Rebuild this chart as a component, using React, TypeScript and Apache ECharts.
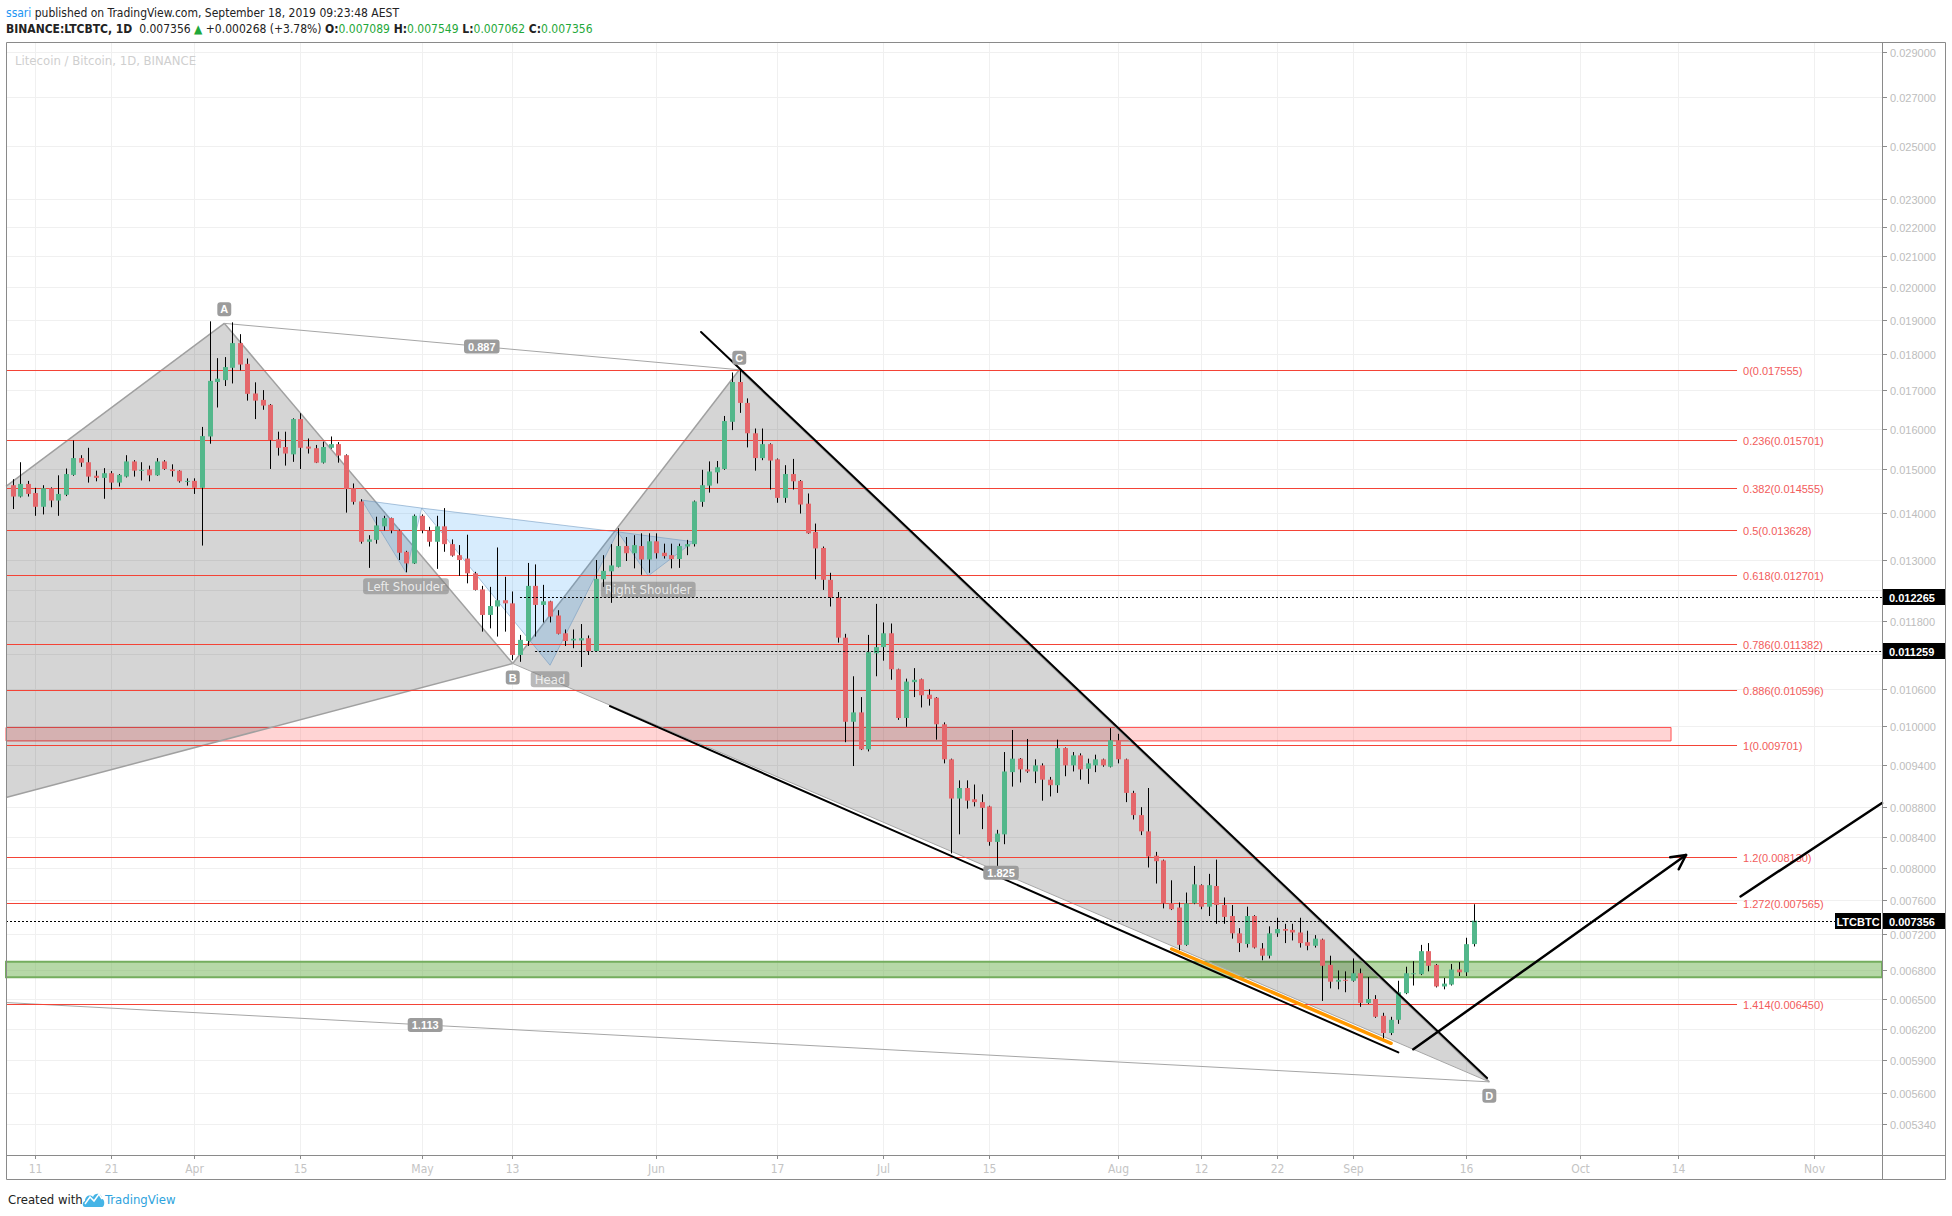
import React, { useEffect, useRef } from 'react';
import * as echarts from 'echarts';

// ---------------- data ----------------
const firstDay = '2019-03-08';
const dayMs = 86400000;
const dayIndex = (d: string) =>
  Math.round((Date.parse(d + 'T00:00:00Z') - Date.parse(firstDay + 'T00:00:00Z')) / dayMs);

// daily candles [open, high, low, close]
const marOHLC = [
  [0.01463, 0.01477, 0.01409, 0.01437], [0.01437, 0.01517, 0.01435, 0.01466], [0.01466, 0.01473, 0.01437, 0.01443],
  [0.01445, 0.01457, 0.01394, 0.01414], [0.01414, 0.01463, 0.01397, 0.01456], [0.01456, 0.01458, 0.01413, 0.01428],
  [0.01428, 0.01486, 0.01394, 0.01443], [0.01441, 0.01502, 0.01438, 0.01489], [0.01487, 0.0157, 0.01485, 0.01527],
  [0.01527, 0.01534, 0.01506, 0.01516], [0.01517, 0.01552, 0.01469, 0.01483], [0.01485, 0.01497, 0.01472, 0.0148],
  [0.0148, 0.01503, 0.01432, 0.01491], [0.01491, 0.01496, 0.01453, 0.01469], [0.01469, 0.01489, 0.0146, 0.01487],
  [0.01483, 0.01534, 0.01481, 0.01519], [0.01519, 0.01522, 0.01483, 0.01497], [0.01497, 0.01517, 0.01474, 0.01499],
  [0.015, 0.01509, 0.01472, 0.01486], [0.01486, 0.01527, 0.01485, 0.01519], [0.01519, 0.01522, 0.01499, 0.01501],
  [0.015, 0.01512, 0.01483, 0.01496], [0.01497, 0.01498, 0.01469, 0.01472], [0.01472, 0.01479, 0.01462, 0.01473],
];
const aprOHLC = [
  [0.01473, 0.01479, 0.01443, 0.01457], [0.01457, 0.01604, 0.0133, 0.01581], [0.0158, 0.01895, 0.01562, 0.01725],
  [0.01722, 0.01788, 0.01654, 0.01731], [0.01727, 0.01791, 0.01711, 0.01763], [0.01761, 0.01892, 0.01718, 0.01831],
  [0.01831, 0.01857, 0.01754, 0.0177], [0.01772, 0.01787, 0.01672, 0.0169], [0.01691, 0.01721, 0.01624, 0.01672],
  [0.01674, 0.017, 0.01648, 0.01659], [0.01661, 0.01663, 0.01501, 0.01571], [0.01573, 0.01592, 0.01533, 0.01552],
  [0.01554, 0.01592, 0.01509, 0.01538], [0.01536, 0.01626, 0.01518, 0.01624], [0.01624, 0.01639, 0.01501, 0.01552],
  [0.01555, 0.01575, 0.01538, 0.0155], [0.01551, 0.01559, 0.01515, 0.01516], [0.01516, 0.01567, 0.01514, 0.01554],
  [0.01552, 0.0158, 0.0155, 0.01561], [0.01561, 0.01566, 0.01516, 0.01533], [0.01534, 0.01536, 0.01401, 0.01454],
  [0.01456, 0.01467, 0.01419, 0.01425], [0.01426, 0.01431, 0.01334, 0.01338], [0.01338, 0.01352, 0.01284, 0.01343],
  [0.01342, 0.01392, 0.01334, 0.01373], [0.01371, 0.01394, 0.01362, 0.01389], [0.01389, 0.0139, 0.01356, 0.01362],
  [0.01362, 0.01364, 0.013, 0.01315], [0.01317, 0.01319, 0.01275, 0.01293], [0.01293, 0.01397, 0.01292, 0.01394],
];
const mayOHLC = [
  [0.01394, 0.01397, 0.01356, 0.01362], [0.01362, 0.0137, 0.01328, 0.01338], [0.01338, 0.01394, 0.01282, 0.01371],
  [0.01371, 0.01411, 0.01317, 0.01333], [0.01333, 0.01343, 0.01307, 0.01309], [0.0131, 0.01331, 0.01268, 0.013],
  [0.01303, 0.01353, 0.01253, 0.01273], [0.01273, 0.01276, 0.01239, 0.0124], [0.01241, 0.01248, 0.01161, 0.01192],
  [0.01192, 0.01246, 0.01167, 0.01209], [0.01208, 0.01326, 0.01152, 0.0122], [0.0122, 0.01266, 0.01161, 0.01214],
  [0.01214, 0.01237, 0.0111, 0.01119], [0.01119, 0.01155, 0.01107, 0.01146], [0.01144, 0.01294, 0.01135, 0.01248],
  [0.01248, 0.01291, 0.01152, 0.01211], [0.01211, 0.0125, 0.01178, 0.01218], [0.01218, 0.01219, 0.01178, 0.01189],
  [0.01191, 0.01201, 0.01156, 0.01157], [0.01158, 0.01165, 0.01135, 0.01144], [0.01145, 0.01165, 0.01131, 0.01148],
  [0.01145, 0.01175, 0.01098, 0.01149], [0.01149, 0.01154, 0.01119, 0.01126], [0.01126, 0.013, 0.01125, 0.01262],
  [0.01261, 0.0131, 0.01246, 0.01278], [0.01277, 0.01333, 0.01215, 0.01289], [0.01286, 0.01367, 0.01285, 0.01329],
  [0.01329, 0.01348, 0.01298, 0.01314], [0.01314, 0.01352, 0.01283, 0.01331], [0.01329, 0.01356, 0.0127, 0.01301],
  [0.01301, 0.01356, 0.01274, 0.01339],
];
const junOHLC = [
  [0.01339, 0.01356, 0.01303, 0.01314], [0.01315, 0.01334, 0.01303, 0.01308], [0.0131, 0.01334, 0.01283, 0.01302],
  [0.01302, 0.01334, 0.01284, 0.01329], [0.01328, 0.01342, 0.0131, 0.01333], [0.01333, 0.01428, 0.01328, 0.01426],
  [0.01425, 0.01499, 0.01414, 0.01463], [0.01462, 0.01519, 0.01446, 0.01495], [0.01493, 0.0152, 0.01467, 0.01505],
  [0.01501, 0.01632, 0.01499, 0.01619], [0.01617, 0.01748, 0.01596, 0.01722], [0.01722, 0.017555, 0.0164, 0.01666],
  [0.01666, 0.01678, 0.01553, 0.01588], [0.01588, 0.016, 0.01497, 0.01527], [0.01527, 0.016, 0.01522, 0.01561],
  [0.01561, 0.01563, 0.01453, 0.01521], [0.01524, 0.01526, 0.01423, 0.01434], [0.01434, 0.0151, 0.01423, 0.01489],
  [0.01489, 0.01525, 0.01453, 0.01472], [0.01473, 0.01475, 0.01399, 0.01419], [0.01421, 0.01444, 0.01355, 0.01356],
  [0.01359, 0.01377, 0.01261, 0.01324], [0.01325, 0.01328, 0.0124, 0.0126], [0.0126, 0.01274, 0.01208, 0.01225],
  [0.01225, 0.01236, 0.01141, 0.0115], [0.0115, 0.01157, 0.00975, 0.01007], [0.01007, 0.01082, 0.00939, 0.01022],
  [0.01022, 0.01047, 0.00963, 0.00964], [0.00964, 0.01155, 0.00961, 0.01124], [0.01122, 0.01213, 0.01082, 0.01133],
];
const julOHLC = [
  [0.01133, 0.01178, 0.01109, 0.01158], [0.01158, 0.01176, 0.01076, 0.01094], [0.01094, 0.01095, 0.0101, 0.01013],
  [0.01013, 0.01078, 0.00999, 0.01073], [0.01072, 0.01096, 0.01047, 0.01076], [0.01077, 0.01078, 0.0103, 0.0105],
  [0.01051, 0.0106, 0.01033, 0.01044], [0.01046, 0.01047, 0.00979, 0.01003], [0.01003, 0.01006, 0.00943, 0.00949],
  [0.00949, 0.0095, 0.00818, 0.00892], [0.00892, 0.00918, 0.00843, 0.00907], [0.00907, 0.00918, 0.00878, 0.00889],
  [0.00891, 0.00912, 0.00881, 0.00887], [0.00887, 0.00898, 0.0085, 0.00879], [0.00881, 0.00882, 0.00828, 0.00833],
  [0.00833, 0.00849, 0.00797, 0.00844], [0.00843, 0.0096, 0.0083, 0.00931], [0.0093, 0.00994, 0.00909, 0.0095],
  [0.0095, 0.00951, 0.00915, 0.00934], [0.00934, 0.0098, 0.00929, 0.00931], [0.00931, 0.00949, 0.00914, 0.0094],
  [0.0094, 0.00943, 0.00889, 0.00919], [0.00919, 0.00923, 0.00895, 0.00911], [0.00911, 0.00979, 0.009, 0.00966],
  [0.00966, 0.00967, 0.00924, 0.0094], [0.0094, 0.0096, 0.00931, 0.00955], [0.00955, 0.00958, 0.00919, 0.00934],
  [0.00935, 0.0095, 0.00913, 0.00943], [0.0094, 0.00956, 0.0093, 0.00949], [0.00949, 0.0095, 0.00938, 0.0094],
  [0.00938, 0.00997, 0.00937, 0.00978],
];
const augOHLC = [
  [0.00978, 0.00988, 0.00943, 0.00949], [0.00949, 0.0095, 0.00887, 0.009], [0.009, 0.00903, 0.00863, 0.00869],
  [0.00869, 0.0088, 0.00842, 0.00847], [0.00847, 0.00907, 0.008, 0.00814], [0.00815, 0.0082, 0.0078, 0.00808],
  [0.00809, 0.0081, 0.0075, 0.00756], [0.00756, 0.00784, 0.00748, 0.00749], [0.00751, 0.00757, 0.00702, 0.00708],
  [0.00708, 0.00769, 0.00707, 0.00756], [0.00756, 0.00802, 0.00755, 0.00779], [0.00778, 0.00779, 0.00749, 0.00752],
  [0.00752, 0.00792, 0.00741, 0.00778], [0.00777, 0.0081, 0.00732, 0.00754], [0.00754, 0.00763, 0.00732, 0.0074],
  [0.00741, 0.00754, 0.00715, 0.00721], [0.00721, 0.00727, 0.007, 0.0071], [0.00709, 0.00752, 0.00705, 0.00741],
  [0.00741, 0.00742, 0.00704, 0.00705], [0.00704, 0.0071, 0.00691, 0.00696], [0.00696, 0.00729, 0.00693, 0.00721],
  [0.00721, 0.00739, 0.00717, 0.00726], [0.00726, 0.00732, 0.0071, 0.00724], [0.00725, 0.00732, 0.00713, 0.00722],
  [0.00722, 0.00739, 0.00705, 0.0071], [0.00711, 0.00724, 0.00702, 0.00707], [0.00707, 0.00719, 0.00705, 0.00715],
  [0.00714, 0.00715, 0.00648, 0.00685], [0.00686, 0.00696, 0.00661, 0.00668], [0.00668, 0.0068, 0.0066, 0.0067],
  [0.0067, 0.00679, 0.00657, 0.00669],
];
const sepOHLC = [
  [0.00669, 0.00693, 0.00668, 0.00677], [0.00677, 0.00682, 0.00642, 0.00646], [0.00646, 0.00673, 0.00645, 0.0065],
  [0.0065, 0.00654, 0.00631, 0.00632], [0.00633, 0.00636, 0.00609, 0.00616], [0.00616, 0.00632, 0.00614, 0.00629],
  [0.00629, 0.00669, 0.00625, 0.00657], [0.00656, 0.00684, 0.00655, 0.00677], [0.00676, 0.0069, 0.00664, 0.00677],
  [0.00676, 0.00708, 0.00675, 0.00701], [0.00701, 0.0071, 0.00679, 0.00685], [0.00686, 0.00687, 0.00662, 0.00663],
  [0.00663, 0.00672, 0.0066, 0.00666], [0.00665, 0.00687, 0.00664, 0.00681], [0.00681, 0.00689, 0.00674, 0.00678],
  [0.00678, 0.00716, 0.00674, 0.007088], [0.007089, 0.007549, 0.007062, 0.007356],
];

// axes
const xTickDates = ['2019-03-11', '2019-03-21', '2019-04-01', '2019-04-15', '2019-05-01', '2019-05-13', '2019-06-01',
  '2019-06-17', '2019-07-01', '2019-07-15', '2019-08-01', '2019-08-12', '2019-08-22', '2019-09-01', '2019-09-16',
  '2019-10-01', '2019-10-14', '2019-11-01'];
const xTickText = ['11', '21', 'Apr', '15', 'May', '13', 'Jun', '17', 'Jul', '15', 'Aug', '12', '22', 'Sep', '16', 'Oct', '14', 'Nov'];
const yTicks = [0.029, 0.027, 0.025, 0.023, 0.022, 0.021, 0.02, 0.019, 0.018, 0.017, 0.016, 0.015, 0.014, 0.013,
  0.0124, 0.0118, 0.0112, 0.0106, 0.01, 0.0094, 0.0088, 0.0084, 0.008, 0.0076, 0.0072, 0.0068, 0.0065, 0.0062,
  0.0059, 0.0056, 0.00534];
const xMin = -0.896;
const xMax = 246.92;
const yMin = 0.005081;
const yMax = 0.029455;

// fibonacci retracement
const fibRatios = ['0', '0.236', '0.382', '0.5', '0.618', '0.786', '0.886', '1', '1.2', '1.272', '1.414'];
const fibPrices = [0.017555, 0.015701, 0.014555, 0.013628, 0.012701, 0.011382, 0.010596, 0.009701, 0.00813, 0.007565, 0.00645];
const fibEndIdx = 227.77;

// XABCD pattern (day index, price)
const xabcdNames = ['X', 'A', 'B', 'C', 'D'];
const xabcdIdx = [-86.1, 27.94, 66.04, 95.97, 195.05];
const xabcdPrice = [0.006826, 0.01889, 0.01104, 0.017555, 0.005703];
const xabcdRatios = ['0.887', '1.825', '1.113']; // A-C, B-D, X-D

// inverse head & shoulders
const hsIdx = [46.1, 51.94, 54.02, 70.97, 79.91, 83.95, 89.9];
const hsPrice = [0.01429, 0.01275, 0.01411, 0.01101, 0.01359, 0.01268, 0.01338];
const hsNames = ['Left Shoulder', 'Head', 'Right Shoulder'];

// trend lines [idx0, price0, idx1, price1]
const upperTrend = [90.92, 0.018634, 194.75, 0.005737];
const lowerTrend = [78.89, 0.010323, 183.03, 0.005975];
const orangeTrend = [153.09, 0.007034, 182.07, 0.006061];
const arrowMain = [185.01, 0.006004, 221.03, 0.008159];
const arrowRay = [228.23, 0.007643, 250, 0.009075];

// zones [idx0, idx1, priceTop, priceBottom]
const redZone = [-2, 219.05, 0.00998, 0.00977];
const greenZone = [-2, 250, 0.006893, 0.006726];

// horizontal price rays
const rayPrices = [0.012265, 0.011259, 0.007356];
const rayStartIdx = [67.0, 69.0, -2];
const symbolName = 'LTCBTC';

// ---------------- helpers ----------------
const UP = '#53b78b';
const DOWN = '#e4676b';
const NARROW = '"Liberation Sans Narrow","DejaVu Sans Condensed","Roboto Condensed","Liberation Sans",Arial,sans-serif';
const SANS = '"Liberation Sans",Arial,sans-serif';

function clipPoly(pts: number[][], r: any) {
  const bounds: [number, number, boolean][] = [
    [0, r.x, true], [0, r.x + r.width, false], [1, r.y, true], [1, r.y + r.height, false],
  ];
  let out = pts;
  for (const [k, v, gt] of bounds) {
    const inp = out;
    out = [];
    if (!inp.length) break;
    for (let i = 0; i < inp.length; i++) {
      const a = inp[i];
      const b = inp[(i + 1) % inp.length];
      const ina = gt ? a[k] >= v : a[k] <= v;
      const inb = gt ? b[k] >= v : b[k] <= v;
      if (ina) out.push(a);
      if (ina !== inb) {
        const t = (v - a[k]) / (b[k] - a[k]);
        out.push([a[0] + t * (b[0] - a[0]), a[1] + t * (b[1] - a[1])]);
      }
    }
  }
  return out;
}

function clipSeg(a: number[], b: number[], r: any) {
  let t0 = 0, t1 = 1;
  const dx = b[0] - a[0], dy = b[1] - a[1];
  const p = [-dx, dx, -dy, dy];
  const q = [a[0] - r.x, r.x + r.width - a[0], a[1] - r.y, r.y + r.height - a[1]];
  for (let i = 0; i < 4; i++) {
    if (p[i] === 0) {
      if (q[i] < 0) return null;
    } else {
      const t = q[i] / p[i];
      if (p[i] < 0) { if (t > t1) return null; if (t > t0) t0 = t; }
      else { if (t < t0) return null; if (t < t1) t1 = t; }
    }
  }
  return [[a[0] + t0 * dx, a[1] + t0 * dy], [a[0] + t1 * dx, a[1] + t1 * dy]];
}

const seg = (s: number[][] | null, stroke: string, lineWidth: number, extra: any = {}) =>
  s ? { type: 'line', shape: { x1: s[0][0], y1: s[0][1], x2: s[1][0], y2: s[1][1] }, style: { stroke, lineWidth, ...extra } } : null;

const tag = (x: number, y: number, text: string, o: any = {}) => ({
  type: 'text', x, y,
  style: {
    text, align: 'center', verticalAlign: 'middle', fontSize: 11, fontWeight: 'bold', fontFamily: SANS,
    fill: '#ffffff', backgroundColor: '#9c9c9c', padding: [2, 4, 1, 4], borderRadius: 3, ...o,
  },
});

const rectOf = (cs: any) => ({ x: cs.x, y: cs.y, width: cs.width, height: cs.height });

function buildOption() {
  const rows = [...marOHLC, ...aprOHLC, ...mayOHLC, ...junOHLC, ...julOHLC, ...augOHLC, ...sepOHLC];
  const candleData = rows.map((r, i) => [i, r[0], r[1], r[2], r[3]]);
  const xTickIdx = xTickDates.map(dayIndex);
  const one = [[0, 0.01]];

  const base = {
    type: 'custom', coordinateSystem: 'cartesian2d', silent: true, xAxisIndex: 0, yAxisIndex: 0,
  };

  const yAxisSeries = {
    ...base, z: 1,
    data: yTicks.map((v) => [0, v]),
    encode: { x: 0, y: 1 },
    renderItem: (params: any, api: any) => {
      const cs = params.coordSys;
      const v = api.value(1);
      const yRaw = api.coord([0, v])[1];
      const y = Math.round(yRaw) + 0.5;
      // labels that sit under a price box on the scale stay hidden, like the reference
      const covered = rayPrices.some((p) => Math.abs(api.coord([0, p])[1] - yRaw) < 9);
      const children: any[] = [
        { type: 'line', shape: { x1: cs.x, y1: y, x2: cs.x + cs.width, y2: y }, style: { stroke: '#f0f0f0', lineWidth: 1 } },
        { type: 'line', shape: { x1: cs.x + cs.width, y1: y, x2: cs.x + cs.width + 5, y2: y }, style: { stroke: '#8c8c8c', lineWidth: 1 } },
      ];
      if (!covered) {
        children.push({ type: 'text', x: cs.x + cs.width + 8, y, style: { text: v.toFixed(6), fill: '#bdbdbd', fontSize: 11, fontFamily: SANS, align: 'left', verticalAlign: 'middle' } });
      }
      return { type: 'group', children };
    },
  };

  const xAxisSeries = {
    ...base, z: 1,
    data: xTickIdx.map((i) => [i, 0.01]),
    encode: { x: 0, y: 1 },
    renderItem: (params: any, api: any) => {
      const cs = params.coordSys;
      const x = Math.round(api.coord([api.value(0), 0.01])[0]) + 0.5;
      const bottom = cs.y + cs.height;
      return {
        type: 'group',
        children: [
          { type: 'line', shape: { x1: x, y1: cs.y, x2: x, y2: bottom }, style: { stroke: '#f0f0f0', lineWidth: 1 } },
          { type: 'line', shape: { x1: x, y1: bottom, x2: x, y2: bottom + 4 }, style: { stroke: '#8c8c8c', lineWidth: 1 } },
          { type: 'text', x, y: bottom + 14, style: { text: xTickText[params.dataIndex], fill: '#c4c4c4', fontSize: 12, fontFamily: NARROW, align: 'center', verticalAlign: 'middle' } },
        ],
      };
    },
  };

  const zoneSeries = {
    ...base, z: 2, data: one, encode: { x: 0, y: 1 },
    renderItem: (params: any, api: any) => {
      const r = rectOf(params.coordSys);
      const mk = (z: number[], fill: string, stroke: string, lw: number) => {
        const a = api.coord([z[0], z[2]]);
        const b = api.coord([z[1], z[3]]);
        const poly = clipPoly([[a[0], a[1]], [b[0], a[1]], [b[0], b[1]], [a[0], b[1]]], r);
        return { type: 'polygon', shape: { points: poly }, style: { fill, stroke, lineWidth: lw } };
      };
      return {
        type: 'group',
        children: [
          mk(redZone, 'rgba(255,82,82,0.25)', '#ff4d4d', 1),
          mk(greenZone, 'rgba(110,178,80,0.5)', '#74ad5e', 2),
        ],
      };
    },
  };

  const patternSeries = {
    ...base, z: 3, data: one, encode: { x: 0, y: 1 },
    renderItem: (params: any, api: any) => {
      const r = rectOf(params.coordSys);
      const P = xabcdIdx.map((d, k) => api.coord([d, xabcdPrice[k]]));
      const [X, A, B, C, D] = P;
      const children: any[] = [];
      const gray = 'rgba(0,0,0,0.165)';
      children.push({ type: 'polygon', shape: { points: clipPoly([X, A, B], r) }, style: { fill: gray } });
      children.push({ type: 'polygon', shape: { points: clipPoly([B, C, D], r) }, style: { fill: gray } });
      [[X, A], [A, B], [B, C], [C, D], [X, B]].forEach(([a, b]) => {
        const s = seg(clipSeg(a, b, r), '#a0a0a0', 1.5);
        if (s) children.push(s);
      });
      [[A, C], [B, D], [X, D]].forEach(([a, b]) => {
        const s = seg(clipSeg(a, b, r), '#a6a6a6', 1);
        if (s) children.push(s);
      });
      const H = hsIdx.map((d, k) => api.coord([d, hsPrice[k]]));
      [[0, 1, 2], [2, 3, 4], [4, 5, 6]].forEach((tri) => {
        children.push({
          type: 'polygon', shape: { points: tri.map((k) => H[k]) },
          style: { fill: 'rgba(33,150,243,0.18)', stroke: 'rgba(110,150,190,0.55)', lineWidth: 1 },
        });
      });
      [1, 3, 5].forEach((k, n) => {
        children.push(tag(H[k][0], H[k][1] + 14, hsNames[n], {
          fontSize: 13, fontWeight: 'normal', fontFamily: NARROW, fill: 'rgba(255,255,255,0.78)',
          backgroundColor: 'rgba(128,128,128,0.55)', padding: [2, 4, 1, 4],
        }));
      });
      return { type: 'group', children };
    },
  };

  const fibSeries = {
    ...base, z: 4, data: one, encode: { x: 0, y: 1 },
    renderItem: (params: any, api: any) => {
      const cs = params.coordSys;
      const children: any[] = [];
      fibPrices.forEach((p, k) => {
        const end = api.coord([fibEndIdx, p]);
        const y = Math.round(end[1]) + 0.5;
        children.push({ type: 'line', shape: { x1: cs.x, y1: y, x2: end[0], y2: y }, style: { stroke: '#f44336', lineWidth: 1 } });
        children.push({
          type: 'text', x: end[0] + 6, y,
          style: { text: `${fibRatios[k]}(${p.toFixed(6)})`, fill: '#f25b5b', fontSize: 11, fontFamily: SANS, align: 'left', verticalAlign: 'middle' },
        });
      });
      return { type: 'group', children };
    },
  };

  const candleSeries = {
    ...base, z: 5,
    data: candleData,
    encode: { x: 0, y: [1, 2, 3, 4] },
    renderItem: (params: any, api: any) => {
      const i = api.value(0);
      const o = api.value(1), h = api.value(2), l = api.value(3), c = api.value(4);
      const pO = api.coord([i, o]);
      const pC = api.coord([i, c]);
      const pH = api.coord([i, h]);
      const pL = api.coord([i, l]);
      const band = api.coord([i + 0.5, o])[0] - api.coord([i - 0.5, o])[0];
      const w = Math.max(2, Math.round(band * 0.62));
      const cx = Math.round(pO[0]);
      const top = Math.min(pO[1], pC[1]);
      const hgt = Math.max(1, Math.abs(pO[1] - pC[1]));
      return {
        type: 'group',
        children: [
          { type: 'line', shape: { x1: cx + 0.5, y1: pH[1], x2: cx + 0.5, y2: pL[1] }, style: { stroke: '#000', lineWidth: 1 } },
          { type: 'rect', shape: { x: cx + 0.5 - w / 2, y: top, width: w, height: hgt }, style: { fill: c >= o ? UP : DOWN } },
        ],
      };
    },
  };

  const drawingSeries = {
    ...base, z: 6, data: one, encode: { x: 0, y: 1 },
    renderItem: (params: any, api: any) => {
      const cs = params.coordSys;
      const r = rectOf(cs);
      const children: any[] = [];
      const line = (t: number[], stroke: string, lw: number) => {
        const a = api.coord([t[0], t[1]]);
        const b = api.coord([t[2], t[3]]);
        const s = seg(clipSeg(a, b, r), stroke, lw, { lineCap: 'round' });
        if (s) children.push(s);
        return [a, b];
      };
      rayPrices.forEach((p, k) => {
        const a = api.coord([rayStartIdx[k], p]);
        const y = Math.round(a[1]) + 0.5;
        children.push({
          type: 'line', shape: { x1: Math.max(cs.x, a[0]), y1: y, x2: cs.x + cs.width, y2: y },
          style: { stroke: '#000', lineWidth: 1, lineDash: [2, 2] },
        });
      });
      line(upperTrend, '#000', 2);
      line(lowerTrend, '#000', 2);
      line(orangeTrend, '#ff9800', 3.5);
      const [s0, s1] = line(arrowMain, '#000', 2.5);
      const ang = Math.atan2(s1[1] - s0[1], s1[0] - s0[0]);
      [0.48, -0.48].forEach((da) => {
        children.push({
          type: 'line',
          shape: { x1: s1[0], y1: s1[1], x2: s1[0] - 16 * Math.cos(ang + da), y2: s1[1] - 16 * Math.sin(ang + da) },
          style: { stroke: '#000', lineWidth: 2.5, lineCap: 'round' },
        });
      });
      line(arrowRay, '#000', 2.5);
      const P = xabcdIdx.map((d, k) => api.coord([d, xabcdPrice[k]]));
      const offs = [0, -14, 14, -12, 14];
      for (let k = 1; k < 5; k++) children.push(tag(P[k][0], P[k][1] + offs[k], xabcdNames[k], { padding: [2, 3, 1, 3] }));
      const mid = (a: number[], b: number[]) => [(a[0] + b[0]) / 2, (a[1] + b[1]) / 2];
      const pairs = [[1, 3], [2, 4], [0, 4]];
      pairs.forEach(([a, b], n) => {
        const m = mid(P[a], P[b]);
        children.push(tag(m[0], m[1], xabcdRatios[n]));
      });
      return { type: 'group', children };
    },
  };

  const priceBoxSeries = {
    ...base, z: 7, data: one, encode: { x: 0, y: 1 },
    renderItem: (params: any, api: any) => {
      const cs = params.coordSys;
      const xr = cs.x + cs.width;
      const children: any[] = [];
      rayPrices.forEach((p, k) => {
        const y = Math.round(api.coord([0, p])[1]);
        children.push({ type: 'rect', shape: { x: xr + 1, y: y - 8, width: 63, height: 16 }, style: { fill: '#000' } });
        children.push({
          type: 'text', x: xr + 7, y: y + 0.5,
          style: { text: p.toFixed(6), fill: '#fff', fontSize: 11, fontWeight: 'bold', fontFamily: SANS, align: 'left', verticalAlign: 'middle' },
        });
        if (k === rayPrices.length - 1) {
          children.push({ type: 'rect', shape: { x: xr - 47, y: y - 8, width: 46, height: 16 }, style: { fill: '#000' } });
          children.push({
            type: 'text', x: xr - 24, y: y + 0.5,
            style: { text: symbolName, fill: '#fff', fontSize: 11, fontWeight: 'bold', fontFamily: SANS, align: 'center', verticalAlign: 'middle' },
          });
        }
      });
      return { type: 'group', children };
    },
  };

  const headerRich = {
    u: { fill: '#2196f3', fontSize: 12, fontFamily: NARROW },
    t: { fill: '#222', fontSize: 12, fontFamily: NARROW },
    b: { fill: '#222', fontSize: 12, fontFamily: NARROW, fontWeight: 'bold' },
    g: { fill: '#1fa83a', fontSize: 12, fontFamily: NARROW },
  };

  return {
    animation: false,
    backgroundColor: '#ffffff',
    grid: { left: 6, top: 42, width: 1876, height: 1113, show: false },
    xAxis: { type: 'value', min: xMin, max: xMax, show: false },
    yAxis: { type: 'log', logBase: 10, min: yMin, max: yMax, show: false },
    graphic: [
      { type: 'rect', z: 100, silent: true, shape: { x: 6.5, y: 42.5, width: 1939, height: 1137 }, style: { fill: 'none', stroke: '#8a8a8a', lineWidth: 1 } },
      { type: 'line', z: 100, silent: true, shape: { x1: 6, y1: 1155.5, x2: 1946, y2: 1155.5 }, style: { stroke: '#8a8a8a', lineWidth: 1 } },
      { type: 'line', z: 100, silent: true, shape: { x1: 1882.5, y1: 42, x2: 1882.5, y2: 1180 }, style: { stroke: '#8a8a8a', lineWidth: 1 } },
      {
        type: 'text', z: 100, silent: true, x: 6, y: 13,
        style: { text: '{u|ssari}{t| published on TradingView.com, September 18, 2019 09:23:48 AEST}', rich: headerRich, verticalAlign: 'middle' },
      },
      {
        type: 'text', z: 100, silent: true, x: 6, y: 29,
        style: {
          text: '{b|BINANCE:LTCBTC, 1D}{t|  0.007356 }{g|▲}{t| +0.000268 (+3.78%) }{b|O:}{g|0.007089}{b| H:}{g|0.007549}{b| L:}{g|0.007062}{b| C:}{g|0.007356}',
          rich: headerRich, verticalAlign: 'middle',
        },
      },
      {
        type: 'text', z: 100, silent: true, x: 15, y: 60,
        style: { text: 'Litecoin / Bitcoin, 1D, BINANCE', fill: '#cfcfcf', fontSize: 13, fontFamily: NARROW, verticalAlign: 'middle' },
      },
      {
        type: 'text', z: 100, silent: true, x: 8, y: 1199,
        style: { text: 'Created with', fill: '#222', fontSize: 13, fontFamily: NARROW, verticalAlign: 'middle' },
      },
      { type: 'tvlogo', z: 100, silent: true, x: 82, y: 1191, scaleX: 1, scaleY: 1, style: { fill: '#45b4e6' } },
      {
        type: 'polyline', z: 101, silent: true,
        shape: { points: [[85, 1204], [90, 1197], [94, 1201], [99, 1194], [102, 1199]] },
        style: { stroke: '#ffffff', lineWidth: 1.5, fill: 'none' },
      },
      {
        type: 'text', z: 100, silent: true, x: 105, y: 1199,
        style: { text: 'TradingView', fill: '#2ea3dd', fontSize: 13, fontFamily: NARROW, verticalAlign: 'middle' },
      },
    ],
    series: [yAxisSeries, xAxisSeries, zoneSeries, patternSeries, fibSeries, candleSeries, drawingSeries, priceBoxSeries],
  };
}

let logoRegistered = false;
function registerLogo() {
  if (logoRegistered) return;
  const d = 'M3 16 C0 16 0 11 3 10 C3 5 8 3 11 6 C13 1 20 2 20 8 C23 8 23 16 20 16 Z';
  echarts.graphic.registerShape('tvlogo', echarts.graphic.extendPath(d, {}) as any);
  logoRegistered = true;
}

export default function App() {
  const ref = useRef<HTMLDivElement>(null);
  useEffect(() => {
    document.body.style.margin = '0';
    registerLogo();
    const chart = echarts.init(ref.current as HTMLDivElement, null, { renderer: 'svg' });
    chart.setOption(buildOption() as any);
    return () => chart.dispose();
  }, []);
  return <div ref={ref} style={{ width: 1952, height: 1216, background: '#fff' }} />;
}
